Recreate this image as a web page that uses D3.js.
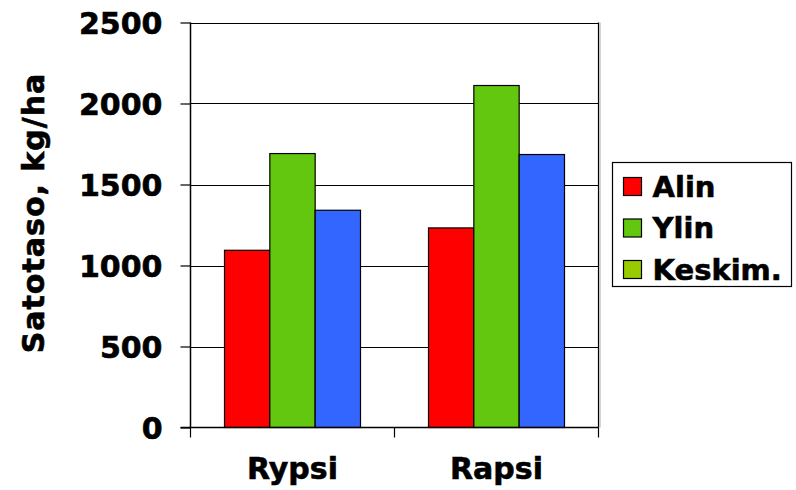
<!DOCTYPE html>
<html>
<head>
<meta charset="utf-8">
<script src="https://cdn.jsdelivr.net/npm/d3@7"></script>
<style>
  html, body { margin: 0; padding: 0; background: #fff; }
  svg text { font-family: "DejaVu Sans", Verdana, sans-serif; font-weight: bold; fill: #000; stroke: #000; stroke-width: 0.6px; }
</style>
</head>
<body>
<svg id="chart" width="796" height="490"></svg>
<script>
// Crop yields (kg/ha) per crop and series
const categories = ["Rypsi", "Rapsi"];
const seriesNames = ["Alin", "Ylin", "Keskim."];
const alin = [1094, 1232];
const ylin = [1691, 2111];
const keskim = [1341, 1685];
const yTicks = [0, 500, 1000, 1500, 2000, 2500];
const barColors = ["#ff0000", "#63c70f", "#3366ff"];
const legendColors = ["#ff0000", "#63c70f", "#99cc00"];

const svg = d3.select("#chart");
const plot = { left: 190.5, right: 598.5, top: 22.5, bottom: 427.5 };

const x0 = d3.scaleBand().domain(categories).range([plot.left, plot.right]).paddingInner(0).paddingOuter(0);
const x1 = d3.scaleBand().domain(seriesNames).range([0, x0.bandwidth()]).paddingInner(0).paddingOuter(0.75);
const y = d3.scaleLinear().domain([0, 2500]).range([plot.bottom, plot.top]);

const values = [alin, ylin, keskim];
const data = categories.map((c, i) => ({
  cat: c,
  vals: seriesNames.map((s, j) => ({ s, j, v: values[j][i] }))
}));

// gridlines
svg.append("g").selectAll("line").data(yTicks.filter(t => t > 0)).join("line")
  .attr("x1", plot.left).attr("x2", plot.right)
  .attr("y1", d => Math.round(y(d)) + 0.5).attr("y2", d => Math.round(y(d)) + 0.5)
  .attr("stroke", "#000").attr("stroke-width", 1.2);

// right frame edge
svg.append("line")
  .attr("x1", plot.right).attr("x2", plot.right)
  .attr("y1", plot.top).attr("y2", plot.bottom)
  .attr("stroke", "#000").attr("stroke-width", 1.2);
svg.append("line")
  .attr("x1", plot.right + 1.5).attr("x2", plot.right + 1.5)
  .attr("y1", plot.top).attr("y2", plot.bottom)
  .attr("stroke", "#aaa").attr("stroke-width", 1);

// bars
const groups = svg.append("g").selectAll("g").data(data).join("g")
  .attr("transform", d => `translate(${x0(d.cat)},0)`);
groups.selectAll("rect").data(d => d.vals).join("rect")
  .attr("x", d => x1(d.s))
  .attr("width", x1.bandwidth())
  .attr("y", d => y(d.v))
  .attr("height", d => y(0) - y(d.v))
  .attr("fill", d => barColors[d.j])
  .attr("stroke", "#000").attr("stroke-width", 1.2);

// y axis
const yAxis = d3.axisLeft(y).tickValues(yTicks).tickSize(10).tickPadding(18).tickFormat(d3.format("d"));
const gy = svg.append("g").attr("transform", `translate(${plot.left},0)`).call(yAxis);
gy.select(".domain").attr("stroke", "#000").attr("stroke-width", 1.5).attr("d", `M0,${plot.top}V${plot.bottom}`);
gy.selectAll(".tick line").attr("stroke", "#000").attr("stroke-width", 1.2);
gy.selectAll(".tick text").style("font-size", "30px").style("font-family", "'DejaVu Sans', sans-serif").style("font-weight", "bold").attr("dy", "0.36em");

// x axis
const xAxis = d3.axisBottom(x0).tickSize(0).tickPadding(30);
const gx = svg.append("g").attr("transform", `translate(0,${plot.bottom})`).call(xAxis);
gx.select(".domain").attr("stroke", "#000").attr("stroke-width", 1.5).attr("d", `M${plot.left - 10},0H${plot.right}`);
gx.selectAll(".tick text").style("font-size", "30px").style("font-family", "'DejaVu Sans', sans-serif").style("font-weight", "bold");
// category boundary ticks
const bounds = [plot.left, x0(categories[1]), plot.right];
gx.append("g").selectAll("line").data(bounds).join("line")
  .attr("x1", d => d).attr("x2", d => d).attr("y1", 0).attr("y2", 10)
  .attr("stroke", "#000").attr("stroke-width", 1.2);

// y title
svg.append("text")
  .attr("transform", `translate(44,${(73 + 353) / 2}) rotate(-90)`)
  .attr("text-anchor", "middle")
  .style("font-size", "30px")
  .style("letter-spacing", "1px")
  .text("Satotaso, kg/ha");

// legend
const lg = svg.append("g").attr("transform", "translate(612.5,162.5)");
lg.append("rect").attr("width", 179).attr("height", 124)
  .attr("fill", "#fff").attr("stroke", "#000").attr("stroke-width", 1.2);
const rows = lg.selectAll("g.row").data(seriesNames).join("g").attr("class", "row")
  .attr("transform", (d, i) => `translate(11,${24 + i * 41.5})`);
rows.append("rect").attr("x", 0).attr("y", -9).attr("width", 18).attr("height", 18)
  .attr("fill", (d, i) => legendColors[i]).attr("stroke", "#000").attr("stroke-width", 1.2);
rows.append("text").attr("x", 29).attr("dy", "0.36em")
  .style("font-size", "29px")
  .text(d => d);
</script>
</body>
</html>
